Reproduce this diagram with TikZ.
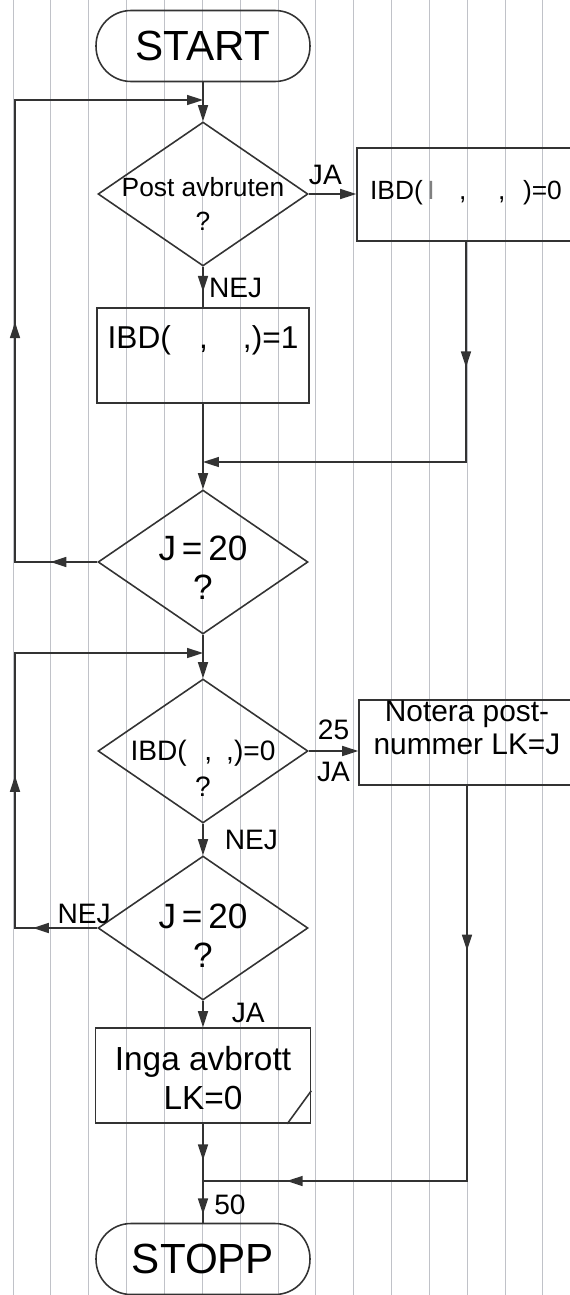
\documentclass[tikz,border=0pt]{standalone}
\usepackage{fontspec}
\setmainfont{Liberation Sans}
\usetikzlibrary{arrows.meta, positioning, shapes.geometric, decorations.markings}

\definecolor{ruling}{RGB}{192,194,200}
% text of a shape, shifted up/down, without changing the shape size
\newcommand{\ctext}[2]{\raisebox{#1}[0pt][0pt]{\makebox[0pt]{\begin{tabular}{@{}c@{}}#2\end{tabular}}}}

\begin{document}
\begin{tikzpicture}[
  x=0.02cm, y=-0.02cm,
  line width=0.9pt,
  rulingline/.style={ruling, line width=0.5pt},
  term/.style={draw=black!80, rounded corners=0.7cm, minimum width=4.28cm, minimum height=1.42cm, inner sep=0pt, font=\fontsize{24}{28}\selectfont},
  dec/.style={draw=black!80, diamond, minimum width=4.2cm, minimum height=2.88cm, inner sep=0pt},
  proc/.style={draw=black!80, minimum width=4.24cm, minimum height=1.9cm, inner sep=0pt},
  lbl/.style={font=\fontsize{16}{18}\selectfont, inner sep=2pt},
  conn/.style={draw=black!80},
  arrow/.style={draw=black!80, -{Triangle[length=3.2mm, width=2mm]}},
  midtip/.style={postaction={decorate, decoration={markings, mark=at position #1 with {\arrow{Triangle[length=3.2mm, width=2mm]}}}}}
]
  \useasboundingbox (0,0) rectangle (570,1295);

  % paper
  \foreach \k in {0,...,15}
    \draw[rulingline] ({13+37.85*\k},0) -- ({13+37.85*\k},1295);

  \coordinate (rail) at (15,0);

  \node[term] (start) at (203,46) {START};
  \coordinate (j1) at (203,100);
  \node[dec, font=\fontsize{15}{19}\selectfont] (d1) at (203,194) {\ctext{-11pt}{Post avbruten\\?}};
  \node[proc, minimum width=4.36cm, minimum height=1.86cm, font=\fontsize{15}{18}\selectfont] (b0) at (466,194.5)
    {\ctext{-3pt}{IBD(\,{\color{gray}I}\hspace{14pt},\hspace{18pt},\hspace{10pt})=0}};
  \node[proc, font=\fontsize{18}{22}\selectfont] (b1) at (203,355.5) {\ctext{4pt}{IBD(\hspace{16pt},\hspace{20pt},)=1}};
  \coordinate (j2) at (203,462);
  \node[dec, font=\fontsize{20}{22}\selectfont] (d2) at (203,562) {\ctext{-11pt}{J\,=\,20\\?}};
  \coordinate (j3) at (203,653);
  \node[dec, font=\fontsize{16}{20}\selectfont] (d3) at (203,751) {\ctext{-16pt}{IBD(\hspace{10pt},\hspace{8pt},)=0\\?}};
  \node[proc, minimum width=4.32cm, minimum height=1.7cm, font=\fontsize{17}{19}\selectfont] (b3) at (467,742.5)
    {\ctext{2pt}{Notera post-\\nummer LK=J}};
  \node[dec, font=\fontsize{20}{22}\selectfont] (d4) at (203,928) {\ctext{-12pt}{J\,=\,20\\?}};
  \node[proc, minimum width=4.3cm, font=\fontsize{19}{22}\selectfont] (b2) at (203,1075.5) {\ctext{-8pt}{Inga avbrott\\LK=0}};
  \coordinate (j4) at (203,1181);
  \node[term] (stop) at (203,1259) {STOPP};

  \draw[arrow] (start) -- (d1);
  \draw[arrow] (d1.east) -- node[lbl, above=3pt, pos=0.35] (lja1) {JA} (d1.east -| b0.west);
  \draw[conn, midtip=0.62] (d1.south) -- node[lbl, right=1pt, pos=0.53] (lnej1) {NEJ} (b1.north);
  \draw[arrow, midtip=0.26] (b0.south) |- (j2);
  \draw[arrow] (b1.south) -- (d2.north);
  \draw[arrow, midtip=0.064, midtip=0.44] (d2.west) -- (d2.west -| rail) |- (j1);
  \draw[arrow] (d2.south) -- (d3.north);
  \draw[arrow] (d3.east) -- node[lbl, above=4pt] (l25) {25} node[lbl, below=4pt] (lja2) {JA} (d3.east -| b3.west);
  \draw[arrow] (d3.south) -- node[lbl, right=10pt] (lnej2) {NEJ} (d4.north);
  \draw[arrow, midtip=0.118, midtip=0.43] (d4.west) -- node[lbl, above, pos=0.16] (lnej3) {NEJ} (d4.west -| rail) |- (j3);
  \draw[arrow] (d4.south) -- node[lbl, right=14pt, pos=0.45] (lja3) {JA} (b2.north);
  \draw[conn, midtip=0.25, midtip=0.873] (b3.south) |- (j4);
  \draw[conn, midtip=0.37, midtip=0.915] (b2.south) -- node[lbl, right=4pt, pos=0.82] (l50) {50} (stop.north);
  \draw[conn] ([yshift=0.66cm]b2.south east) -- ([xshift=-0.48cm]b2.south east);
\end{tikzpicture}
\end{document}
